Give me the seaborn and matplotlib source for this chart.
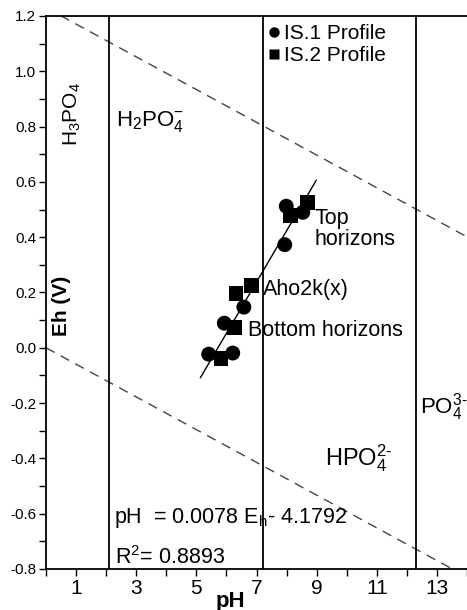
import numpy as np
import pandas as pd
import matplotlib
matplotlib.use("Agg")
import matplotlib.pyplot as plt
import seaborn as sns

# Soil profile measurements (pH, Eh in volts)
is1_ph = [7.99, 8.54, 7.94, 6.58, 5.93, 5.41, 6.21]
is1_eh = [0.512, 0.490, 0.373, 0.147, 0.089, -0.023, -0.019]
is2_ph = [8.71, 8.13, 6.82, 6.32, 6.27, 5.82]
is2_eh = [0.524, 0.479, 0.225, 0.198, 0.074, -0.040]
profile_names = ["IS.1 Profile", "IS.2 Profile"]

# Phosphate speciation boundaries (pKa values)
pka_values = [2.1, 7.2, 12.3]
# Water stability limits: Eh = a + b * pH
water_upper = (1.23, -0.0592)
water_lower = (0.0, -0.0592)
# pH span of the drawn regression line
fit_span = [5.13, 8.99]

x_ticks = [1, 3, 5, 7, 9, 11, 13]
y_ticks = [-0.8, -0.6, -0.4, -0.2, 0.0, 0.2, 0.4, 0.6, 0.8, 1.0, 1.2]

sns.set_theme(style="white")
plt.rcParams["font.family"] = ["Liberation Sans", "DejaVu Sans"]
plt.rcParams["mathtext.fontset"] = "custom"
plt.rcParams["mathtext.rm"] = "Liberation Sans"
plt.rcParams["mathtext.it"] = "Liberation Sans:italic"
plt.rcParams["mathtext.bf"] = "Liberation Sans:bold"
for key in ("text.color", "axes.labelcolor", "xtick.color", "ytick.color"):
    plt.rcParams[key] = "black"

df = pd.DataFrame({
    "pH": is1_ph + is2_ph,
    "Eh": is1_eh + is2_eh,
    "Profile": [profile_names[0]] * len(is1_ph) + [profile_names[1]] * len(is2_ph),
})

fig = plt.figure(figsize=(4.67, 6.10), dpi=100)
ax = fig.add_axes([46 / 467, 41 / 610, 421 / 467, 553 / 610])

# water stability lines
xs = np.array([0.0, 14.0])
for a, b in (water_upper, water_lower):
    ax.plot(xs, a + b * xs, color="#444444", lw=1.0, ls=(0, (7, 5)), zorder=1)

# speciation boundaries
for p in pka_values:
    ax.axvline(p, color="black", lw=1.3, zorder=1)

# regression line through all samples
slope, intercept = np.polyfit(df["pH"], df["Eh"], 1)
fx = np.array(fit_span)
ax.plot(fx, intercept + slope * fx, color="black", lw=1.0, zorder=2)

sns.scatterplot(
    data=df, x="pH", y="Eh", style="Profile",
    markers={profile_names[0]: "o", profile_names[1]: "s"},
    color="black", s=115, edgecolor="none", ax=ax, zorder=3,
)

leg = ax.legend(
    loc="upper left", bbox_to_anchor=((268 - 46) / 421, 1 - (24 - 16) / 553),
    frameon=False, fontsize=15, handlelength=0.6, handletextpad=0.15,
    labelspacing=0.15, borderpad=0, borderaxespad=0, markerscale=0.7,
)

ax.set_xlim(0, 14)
ax.set_ylim(-0.8, 1.2)
ax.set_xticks(x_ticks)
ax.set_xticks(np.arange(0, 14.1, 1), minor=True)
ax.set_yticks(y_ticks)
ax.set_yticks(np.arange(-0.8, 1.21, 0.1), minor=True)
ax.set_yticklabels([f"{v:.1f}" for v in y_ticks], fontsize=11)
ax.set_xticklabels([str(v) for v in x_ticks], fontsize=15)
ax.tick_params(axis="both", which="both", direction="out", length=5, width=1.0,
               colors="black", bottom=True, left=True)
ax.tick_params(axis="x", pad=2)
ax.tick_params(axis="y", pad=2)
ax.set_xlabel("")
ax.set_ylabel("")
for side in ("left", "bottom", "top"):
    ax.spines[side].set_color("black")
    ax.spines[side].set_linewidth(1.3)
ax.spines["right"].set_visible(False)

# region and annotation labels
fs = 15.5
ax.text(0.87, 0.845, "H$_3$PO$_4$", rotation=90, ha="center", va="center", fontsize=15)
ax.text(2.33, 0.82, "H$_2$PO$_4^{-}$", ha="left", va="center", fontsize=16)
ax.text(12.43, -0.215, "PO$_4^{3\\text{-}}$", ha="left", va="center", fontsize=16)
ax.text(9.27, -0.40, "HPO$_4^{2\\text{-}}$", ha="left", va="center", fontsize=17)
ax.text(8.93, 0.43, "Top\nhorizons", ha="left", va="center", fontsize=fs, linespacing=1.0)
ax.text(7.22, 0.21, "Aho2k(x)", ha="left", va="center", fontsize=fs)
ax.text(6.73, 0.062, "Bottom horizons", ha="left", va="center", fontsize=fs)
ax.text(0.53, 0.15, "Eh (V)", rotation=90, ha="center", va="center",
        fontsize=15, fontweight="bold")
ax.text(2.27, -0.616, "pH  = 0.0078 E$_\\mathrm{h}$- 4.1792", ha="left", va="center", fontsize=fs)
ax.text(2.3, -0.757, "R$^2$= 0.8893", ha="left", va="center", fontsize=fs)
fig.text(230 / 467, 1 - 601 / 610, "pH", ha="center", va="center",
         fontsize=16, fontweight="bold")

fig.savefig("out.png", dpi=100, facecolor="white")
